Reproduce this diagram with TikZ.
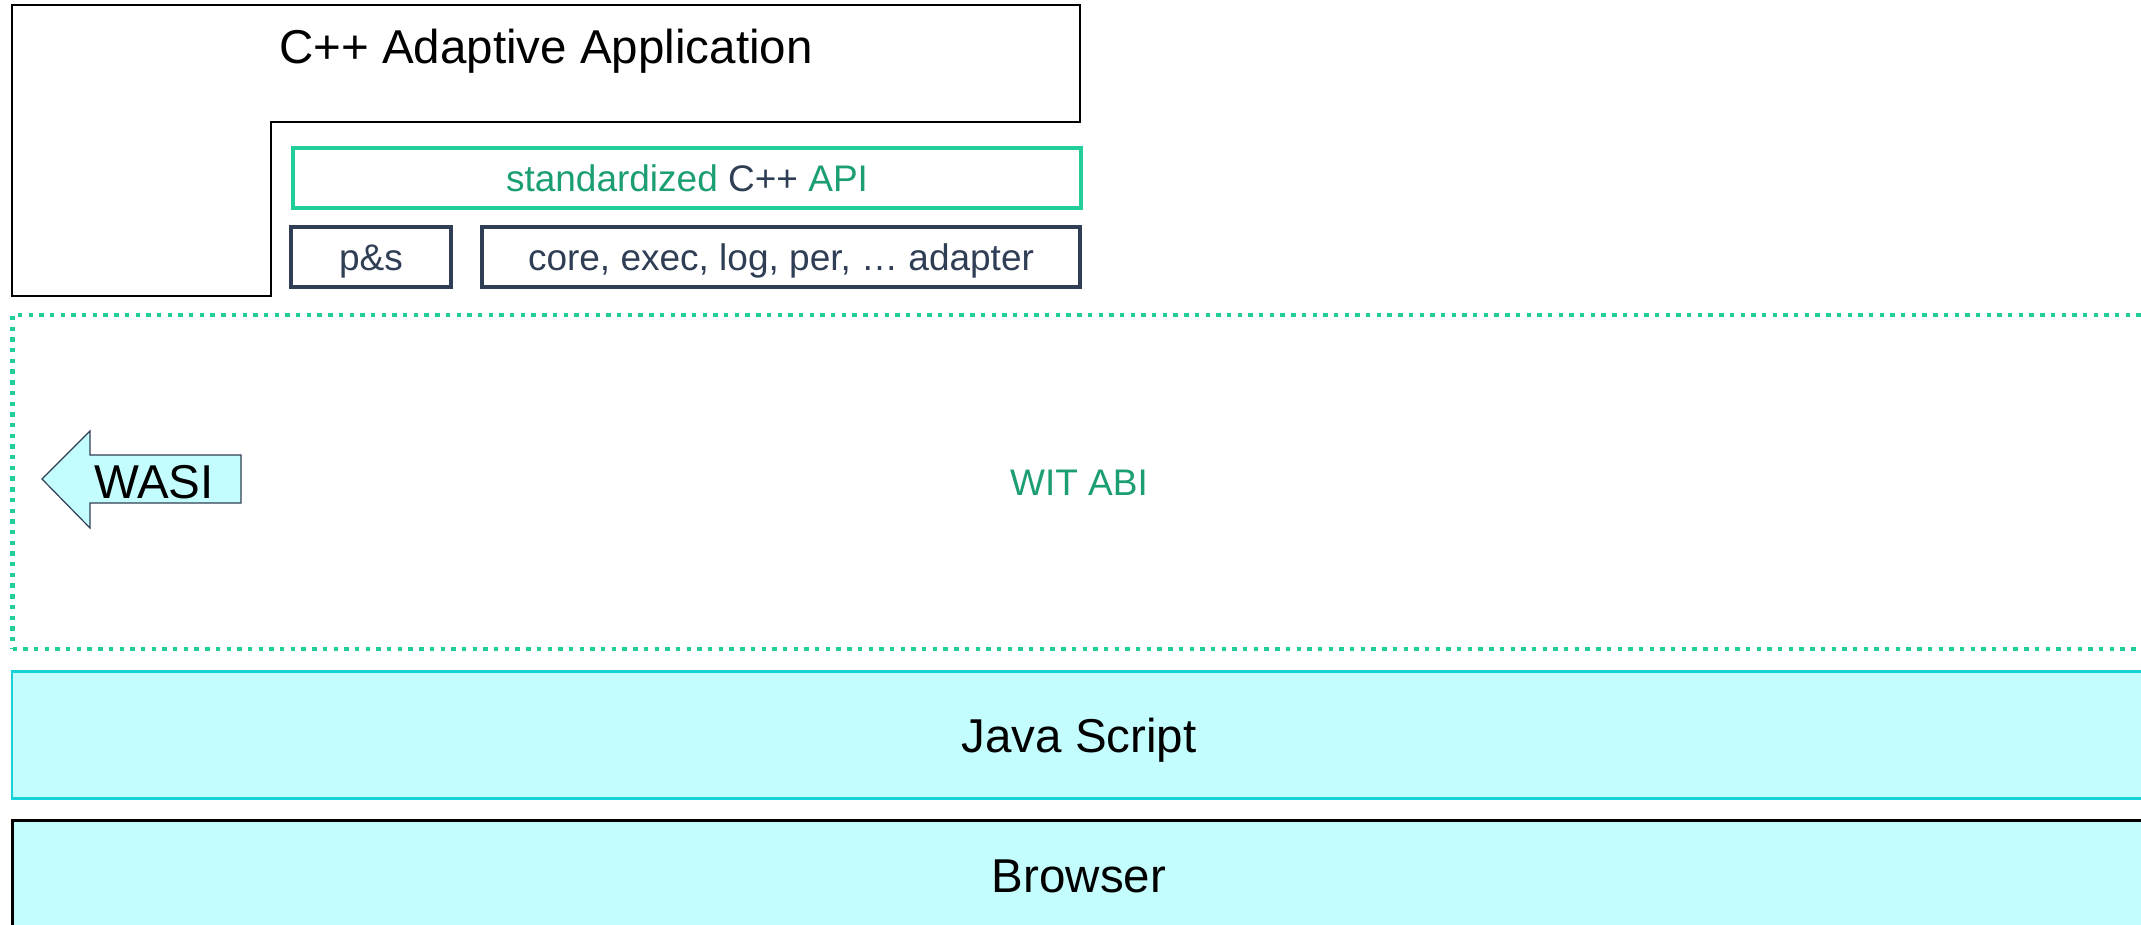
\documentclass[tikz,border=0pt]{standalone}
\usepackage{fontspec}
\setmainfont{Liberation Sans}
\usetikzlibrary{positioning}
\definecolor{apigreen}{RGB}{33,206,153}
\definecolor{textgreen}{RGB}{27,158,115}
\definecolor{navy}{RGB}{47,62,84}
\definecolor{layerfill}{RGB}{196,253,253}
\definecolor{layercyan}{RGB}{20,210,215}

\begin{document}
\begin{tikzpicture}
[x=0.5pt,y=-0.5pt,
  bigfont/.style={font=\fontsize{23.75}{28}\selectfont,
    text height=17pt,text depth=0pt,inner sep=0pt},
  smallfont/.style={font=\fontsize{18.5}{22}\selectfont,
    text height=13.25pt,text depth=0pt,inner sep=0pt},
  apidecorate/.style={shape=rectangle,draw=apigreen,line width=2pt,
    minimum width=394pt,minimum height=30pt,smallfont,text=textgreen},
  adapterdecorate/.style={shape=rectangle,draw=navy,line width=2.25pt,
    minimum height=30pt,smallfont,text=navy},
  layerdecorate/.style={shape=rectangle,fill=layerfill,minimum width=1067pt,
    bigfont},
  appdecorate/.style={draw=black,line width=1pt,line join=miter}]
\useasboundingbox (0,0) rectangle (2141,925);
\clip (0,0) rectangle (2141,925);

%% application frame
\draw[appdecorate] (12,5) -- (1080,5) -- (1080,122) -- (271,122)
  -- (271,296) -- (12,296) -- cycle;
\node (app) [bigfont] at (546,47) {C++ Adaptive Application};

%% api and adapters
\node (api) [apidecorate] at (687,178)
  {standardized \textcolor{navy}{C++} API};
\foreach \nodename/\x/\w/\label in {ps/371/80/p\&s,
  adapter/781/299/{core, exec, log, per, … adapter}}
{
  \node (\nodename) [adapterdecorate,minimum width=\w pt] at (\x,257) {\label};
};

%% wit abi region
\node (wit) [shape=rectangle,draw=apigreen,line width=2.2pt,
  dash pattern=on 2.2pt off 3.15pt,minimum width=1066.5pt,minimum height=167pt,
  smallfont,text=textgreen] at (1079,482) {WIT ABI};

%% wasi arrow
\draw[draw=navy,fill=layerfill,line width=0.6pt,line join=miter]
  (42,479) -- (90,431) -- (90,455) -- (241,455) -- (241,503)
  -- (90,503) -- (90,528) -- cycle;
\node (wasi) [bigfont] at (154,481) {WASI};

%% runtime layers
\node (js) [layerdecorate,draw=layercyan,line width=1.25pt,minimum height=63.5pt]
  at (1079,735) {Java Script};
\node (browser) [layerdecorate,draw=black,line width=1.5pt,minimum height=55pt]
  at (1079,875) {Browser};
\end{tikzpicture}
\end{document}
